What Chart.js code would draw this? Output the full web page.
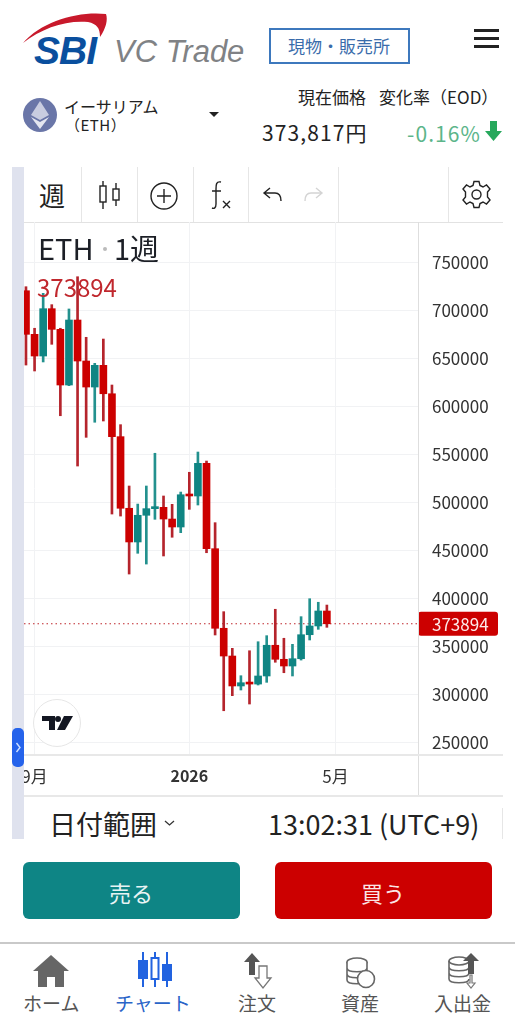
<!DOCTYPE html>
<html lang="ja">
<head>
<meta charset="utf-8">
<title>ETH 1週</title>
<script src="https://cdn.jsdelivr.net/npm/chart.js@4"></script>
<style>
html, body { margin: 0; padding: 0; background: #fff; }
body { width: 515px; height: 1024px; position: relative; overflow: hidden; font-family: "Noto Sans CJK JP", "Noto Sans", sans-serif; color: #222; }
.t { position: absolute; line-height: 1; white-space: nowrap; }
.r { position: absolute; }
svg { position: absolute; overflow: visible; }
#chartBox { position: absolute; left: 0; top: 222px; width: 515px; height: 573px; }
</style>
</head>
<body>

<!-- header -->
<svg style="left:0;top:0" width="260" height="80">
  <path d="M23 43 C42 21 78 11 106 14 C108 20 106 28 100 37 C100 28 97 24 88 22 C66 20 42 28 23 43Z" fill="#c8192b"/>
</svg>
<div class="t" style="left:34px;top:29px;font:italic 700 39px 'Liberation Sans';color:#0a4f9e;letter-spacing:-1px">SBI</div>
<div class="t" style="left:114px;top:34px;font:italic 400 31px 'Liberation Sans';color:#808285">VC Trade</div>
<div class="r" style="left:269px;top:28px;width:137px;height:32px;border:2px solid #3d78bd"></div>
<div class="t" style="left:288px;top:37px;font-size:17px;color:#3a6cab">現物・販売所</div>
<div class="r" style="left:474px;top:29px;width:25px;height:3px;background:#222"></div>
<div class="r" style="left:474px;top:37px;width:25px;height:3px;background:#222"></div>
<div class="r" style="left:474px;top:45px;width:25px;height:3px;background:#222"></div>

<svg style="left:23px;top:97px" width="35" height="36">
  <circle cx="17" cy="18" r="17" fill="#6a76a8"/>
  <path d="M17 4 L26 18 L17 23 L8 18Z" fill="#c9cde0"/>
  <path d="M17 25 L26 20 L17 32 L8 20Z" fill="#e4e6f0"/>
</svg>
<div class="t" style="left:64px;top:98px;font-size:16px">イーサリアム</div>
<div class="t" style="left:65px;top:117px;font-size:15px;letter-spacing:.5px">（ETH）</div>
<svg style="left:209px;top:112px" width="11" height="6"><path d="M0 0H10L5 5Z" fill="#222"/></svg>
<div class="t" style="left:298px;top:88px;font-size:17px">現在価格</div>
<div class="t" style="left:379px;top:88px;font-size:17px">変化率（EOD）</div>
<div class="t" style="left:262px;top:122px;font-size:21px;letter-spacing:1.1px">373,817円</div>
<div class="t" style="left:407px;top:123px;font-size:21px;letter-spacing:1.1px;color:#5cb58a">-0.16%</div>
<svg style="left:485px;top:121px" width="17" height="21"><path d="M5 0H12V10H17L8.5 20L0 10H5Z" fill="#27a85c"/></svg>

<!-- toolbar -->
<div class="r" style="left:24px;top:222px;width:479px;height:1px;background:#e2e2e2"></div>
<div class="r" style="left:81px;top:167px;width:1px;height:55px;background:#e6e6e6"></div>
<div class="r" style="left:137px;top:167px;width:1px;height:55px;background:#e6e6e6"></div>
<div class="r" style="left:193px;top:167px;width:1px;height:55px;background:#e6e6e6"></div>
<div class="r" style="left:248px;top:167px;width:1px;height:55px;background:#e6e6e6"></div>
<div class="r" style="left:338px;top:167px;width:1px;height:55px;background:#e6e6e6"></div>
<div class="r" style="left:448px;top:167px;width:1px;height:55px;background:#e6e6e6"></div>
<div class="t" style="left:39px;top:182px;font-size:26px">週</div>
<svg style="left:98px;top:180px" width="24" height="30" fill="none" stroke="#222" stroke-width="1.4">
  <rect x="2" y="6" width="6" height="16"/><path d="M5 1V6M5 22V29"/>
  <rect x="15" y="9" width="6" height="11"/><path d="M18 3V9M18 20V26"/>
</svg>
<svg style="left:150px;top:182px" width="28" height="28" fill="none" stroke="#222" stroke-width="1.4">
  <circle cx="14" cy="14" r="13"/><path d="M14 7V21M7 14H21"/>
</svg>
<svg style="left:209px;top:180px" width="24" height="30" fill="none" stroke="#222" stroke-width="1.4">
  <path d="M12 2C7 1 7 5 7 9V24C7 28 5 29 3 28M3 11H12"/><path d="M14 21L21 28M21 21L14 28"/>
</svg>
<svg style="left:263px;top:187px" width="20" height="16" fill="none" stroke="#222" stroke-width="1.4">
  <path d="M7 1L1 6L7 11M1 6H12C16 6 18 9 18 14"/>
</svg>
<svg style="left:303px;top:187px" width="20" height="16" fill="none" stroke="#d4d4d4" stroke-width="1.4">
  <path d="M13 1L19 6L13 11M19 6H8C4 6 2 9 2 14"/>
</svg>
<svg style="left:462px;top:180px" width="29" height="29" fill="none" stroke="#222" stroke-width="1.4">
  <circle cx="14.5" cy="14.5" r="4.5"/>
  <path d="M12 1.5H17L18 5.5L21 7L24.5 5L28 9L25.5 12V17L28 20L24.5 24L21 22L18 23.5L17 27.5H12L11 23.5L8 22L4.5 24L1 20L3.5 17V12L1 9L4.5 5L8 7L11 5.5Z"/>
</svg>

<!-- chart -->
<div id="chartBox"><canvas id="ethChart"></canvas></div>

<!-- left strip sits above the canvas so it cuts the 9月 label -->
<div class="r" style="left:0;top:760px;width:24px;height:30px;background:#fff"></div>
<div class="r" style="left:12px;top:167px;width:12px;height:672px;background:#dfe2ee"></div>

<div class="t" style="left:38px;top:233px;font-size:29px;color:#1c1f26">ETH</div>
<div class="r" style="left:103px;top:247px;width:4px;height:4px;border-radius:2px;background:#bbb"></div>
<div class="t" style="left:114px;top:233px;font-size:29px;color:#1c1f26">1週</div>
<div id="lastLegend" class="t" style="left:37px;top:275px;font-size:24px;color:#c0272d"></div>

<div class="r" style="left:418px;top:222px;width:1px;height:573px;background:#dedede"></div>
<div class="r" style="left:24px;top:754px;width:479px;height:2px;background:#e8e8e8"></div>
<div class="r" style="left:24px;top:795px;width:479px;height:2px;background:#e8e8e8"></div>

<svg style="left:33px;top:699px" width="49" height="49">
  <circle cx="24" cy="24" r="23.5" fill="#fff" stroke="#e6e6e6"/>
  <path d="M9 17H22V31H16V22H9Z M25 17A3 3 0 1 1 25 23A3 3 0 1 1 25 17Z M31 17H40L32 31H24Z" fill="#131722"/>
</svg>
<svg style="left:12px;top:728px" width="12" height="39">
  <rect width="12" height="39" rx="5" fill="#2563eb"/><path d="M4.5 15L8 19.5L4.5 24" fill="none" stroke="#cfe0ff" stroke-width="1.4"/>
</svg>

<!-- date row -->
<div class="t" style="left:49px;top:810px;font-size:27px">日付範囲</div>
<svg style="left:164px;top:820px" width="11" height="7"><path d="M1 1L5.5 5L10 1" fill="none" stroke="#333" stroke-width="1.3"/></svg>
<div class="t" style="left:268px;top:810px;font-size:27px">13:02:31 (UTC+9)</div>
<div class="r" style="left:502px;top:808px;width:1px;height:31px;background:#e6e6e6"></div>

<!-- buttons -->
<div class="r" style="left:23px;top:862px;width:217px;height:57px;border-radius:6px;background:#0e8585"></div>
<div class="t" style="left:109px;top:881px;font-size:22px;color:#e8f4f4">売る</div>
<div class="r" style="left:275px;top:862px;width:217px;height:57px;border-radius:6px;background:#cc0000"></div>
<div class="t" style="left:361px;top:881px;font-size:22px;color:#fbe6e6">買う</div>

<!-- nav -->
<div class="r" style="left:0;top:942px;width:515px;height:2px;background:#c9c9c9"></div>
<svg style="left:33px;top:955px" width="37" height="32"><path d="M18 0L36 16H31V32H22V22H14V32H5V16H0Z" fill="#666"/></svg>
<svg style="left:138px;top:952px" width="34" height="36" stroke="#2263e0" stroke-width="2" fill="#2263e0">
  <path d="M5 0V35M17 0V35M29 0V35"/>
  <rect x="1" y="9" width="8" height="17"/><rect x="13.5" y="6" width="7" height="21" fill="#fff"/><rect x="25" y="13" width="8" height="15"/>
</svg>
<svg style="left:243px;top:953px" width="30" height="36">
  <path d="M9 0L17 9H12V22H6V9H1Z" fill="#555"/>
  <path d="M16 13H24V25H28L20 35L12 25H16Z" fill="#fff" stroke="#777" stroke-width="1.3"/>
</svg>
<svg style="left:345px;top:957px" width="31" height="32" fill="#fff" stroke="#666" stroke-width="1.6">
  <ellipse cx="12" cy="5" rx="10" ry="4"/><path d="M2 5V23C2 28 22 28 22 23V5M2 11C2 16 22 16 22 11M2 17C2 22 22 22 22 17"/>
  <circle cx="21" cy="22" r="8.5"/>
</svg>
<svg style="left:447px;top:953px" width="33" height="36" fill="none" stroke="#666" stroke-width="1.6">
  <ellipse cx="12" cy="8" rx="10" ry="4"/><path d="M2 8V26C2 31 22 31 22 26M2 14C2 19 22 19 22 14M2 20C2 25 22 25 22 20"/>
  <path d="M24 0L32 8H27V21H21V8H16Z" fill="#555" stroke="none"/>
  <path d="M25 22V30H28L24 35L20 30H23V22Z" fill="#fff" stroke="#777" stroke-width="1.2"/>
</svg>
<div class="t" style="left:23px;top:993px;font-size:19px;color:#555">ホーム</div>
<div class="t" style="left:115px;top:993px;font-size:19px;color:#2a64c8">チャート</div>
<div class="t" style="left:238px;top:993px;font-size:19px;color:#555">注文</div>
<div class="t" style="left:341px;top:993px;font-size:19px;color:#555">資産</div>
<div class="t" style="left:434px;top:993px;font-size:19px;color:#555">入出金</div>

<script>
// week starting dates, first candle 2025-08-25
const weeks = ['08/25', '09/01', '09/08', '09/15', '09/22', '09/29', '10/06', '10/13', '10/20', '10/27', '11/03', '11/10',
  '11/17', '11/24', '12/01', '12/08', '12/15', '12/22', '12/29', '01/05', '01/12', '01/19', '01/26', '02/02',
  '02/09', '02/16', '02/23', '03/02', '03/09', '03/16', '03/23', '03/30', '04/06', '04/13', '04/20', '04/27'];

const opens = [720800, 675400, 652800, 702100, 680600, 622600, 690300, 647600, 620500, 643100, 613500, 568800,
  494200, 459100, 486900, 493800, 495200, 483000, 474700, 508300, 507000, 541000, 452100, 369200,
  340300, 309100, 312500, 311100, 319500, 351500, 336900, 329900, 337500, 362500, 371600, 387200];
const highs = [725000, 681700, 718100, 706300, 681700, 701800, 735400, 672300, 645200, 670500, 622600, 581300,
  517400, 498600, 517400, 551500, 507000, 498300, 511100, 531700, 552800, 543400, 479200, 386500,
  348300, 319800, 345800, 355200, 361500, 389000, 358800, 352500, 381300, 400000, 396300, 393400];
const lows = [643400, 637200, 646600, 665000, 590600, 621900, 538200, 568100, 583800, 585100, 488200, 486100,
  425700, 447300, 436100, 482700, 444500, 464000, 468800, 493100, 497600, 447900, 362200, 283300,
  299000, 304900, 290300, 310100, 312900, 333800, 322900, 319500, 336100, 357000, 368100, 370200];
const closes = [675400, 652800, 702100, 680600, 622600, 690300, 647600, 620500, 643100, 613500, 568800, 494200,
  459100, 486900, 493800, 495200, 483000, 474700, 508300, 507000, 541000, 452100, 369200, 340300,
  309100, 312500, 311100, 319500, 351500, 336900, 329900, 337500, 362500, 371600, 387200, 373894];

const priceTicks = [250000, 300000, 350000, 400000, 450000, 500000, 550000, 600000, 650000, 700000, 750000];
const timeTicks = [1, 19, 36];
const timeLabels = ['9月', '2026', '5月'];

const UP = '#0f8583';
const DOWN = '#cc0000';
const lastPrice = closes[closes.length - 1];
const xMin = -0.23;
const xMax = 45.6;

document.getElementById('lastLegend').textContent = lastPrice;

const candleColors = closes.map((c, i) => (c >= opens[i] ? UP : DOWN));

// red box with the last price on the price axis
const lastPriceTag = {
  id: 'lastPriceTag',
  afterDraw(chart) {
    const c = chart.ctx;
    const y = chart.scales.y.getPixelForValue(lastPrice);
    c.save();
    c.fillStyle = DOWN;
    c.beginPath();
    c.roundRect(418, y - 12, 80, 24, 3);
    c.fill();
    c.fillStyle = '#fdeaea';
    c.font = '17px "Noto Sans CJK JP"';
    c.textBaseline = 'middle';
    c.fillText(String(lastPrice), 432, y + 1);
    c.restore();
  }
};

new Chart(document.getElementById('ethChart').getContext('2d'), {
  type: 'bar',
  data: {
    datasets: [
      {
        type: 'line',
        data: [{ x: xMin, y: lastPrice }, { x: xMax, y: lastPrice }],
        borderColor: '#c0272d',
        borderWidth: 1.2,
        borderDash: [1.5, 3],
        pointRadius: 0,
        order: 3
      },
      {
        data: weeks.map((w, i) => ({ x: i, y: [lows[i], highs[i]] })),
        backgroundColor: candleColors.map(c => (c === UP ? '#23918e' : '#b5242c')),
        barThickness: 2,
        grouped: false,
        order: 2
      },
      {
        data: weeks.map((w, i) => ({ x: i, y: [opens[i], closes[i]] })),
        backgroundColor: candleColors,
        barThickness: 7,
        minBarLength: 2,
        grouped: false,
        order: 1
      }
    ]
  },
  options: {
    responsive: true,
    maintainAspectRatio: false,
    animation: false,
    events: [],
    layout: { padding: { left: 24, right: 12, top: 0, bottom: 0 } },
    plugins: { legend: { display: false }, tooltip: { enabled: false } },
    scales: {
      x: {
        type: 'linear',
        min: xMin,
        max: xMax,
        offset: false,
        afterBuildTicks: s => { s.ticks = timeTicks.map(v => ({ value: v })); },
        afterFit: s => { s.height = 40; s.paddingLeft = 0; s.paddingRight = 0; },
        grid: { color: '#f1f2f4', offset: false, drawTicks: false },
        border: { display: false },
        ticks: {
          autoSkip: false,
          maxRotation: 0,
          padding: 11,
          color: '#333',
          font: ctx => (timeLabels[ctx.index] === '2026'
            ? { family: '"Noto Sans CJK JP"', size: 16, weight: 700 }
            : { family: '"Noto Sans CJK JP"', size: 17, weight: 400 }),
          callback: (v, i) => timeLabels[i]
        }
      },
      y: {
        position: 'right',
        min: 237200,
        max: 792400,
        afterBuildTicks: s => { s.ticks = priceTicks.map(v => ({ value: v })); },
        afterFit: s => { s.width = 85; s.paddingTop = 0; s.paddingBottom = 0; },
        grid: { color: '#f1f2f4', drawTicks: false },
        border: { display: false },
        ticks: {
          autoSkip: false,
          padding: 14,
          color: '#333',
          font: { family: '"Noto Sans CJK JP"', size: 17 },
          callback: v => String(v)
        }
      }
    }
  },
  plugins: [lastPriceTag]
});
</script>
</body>
</html>
